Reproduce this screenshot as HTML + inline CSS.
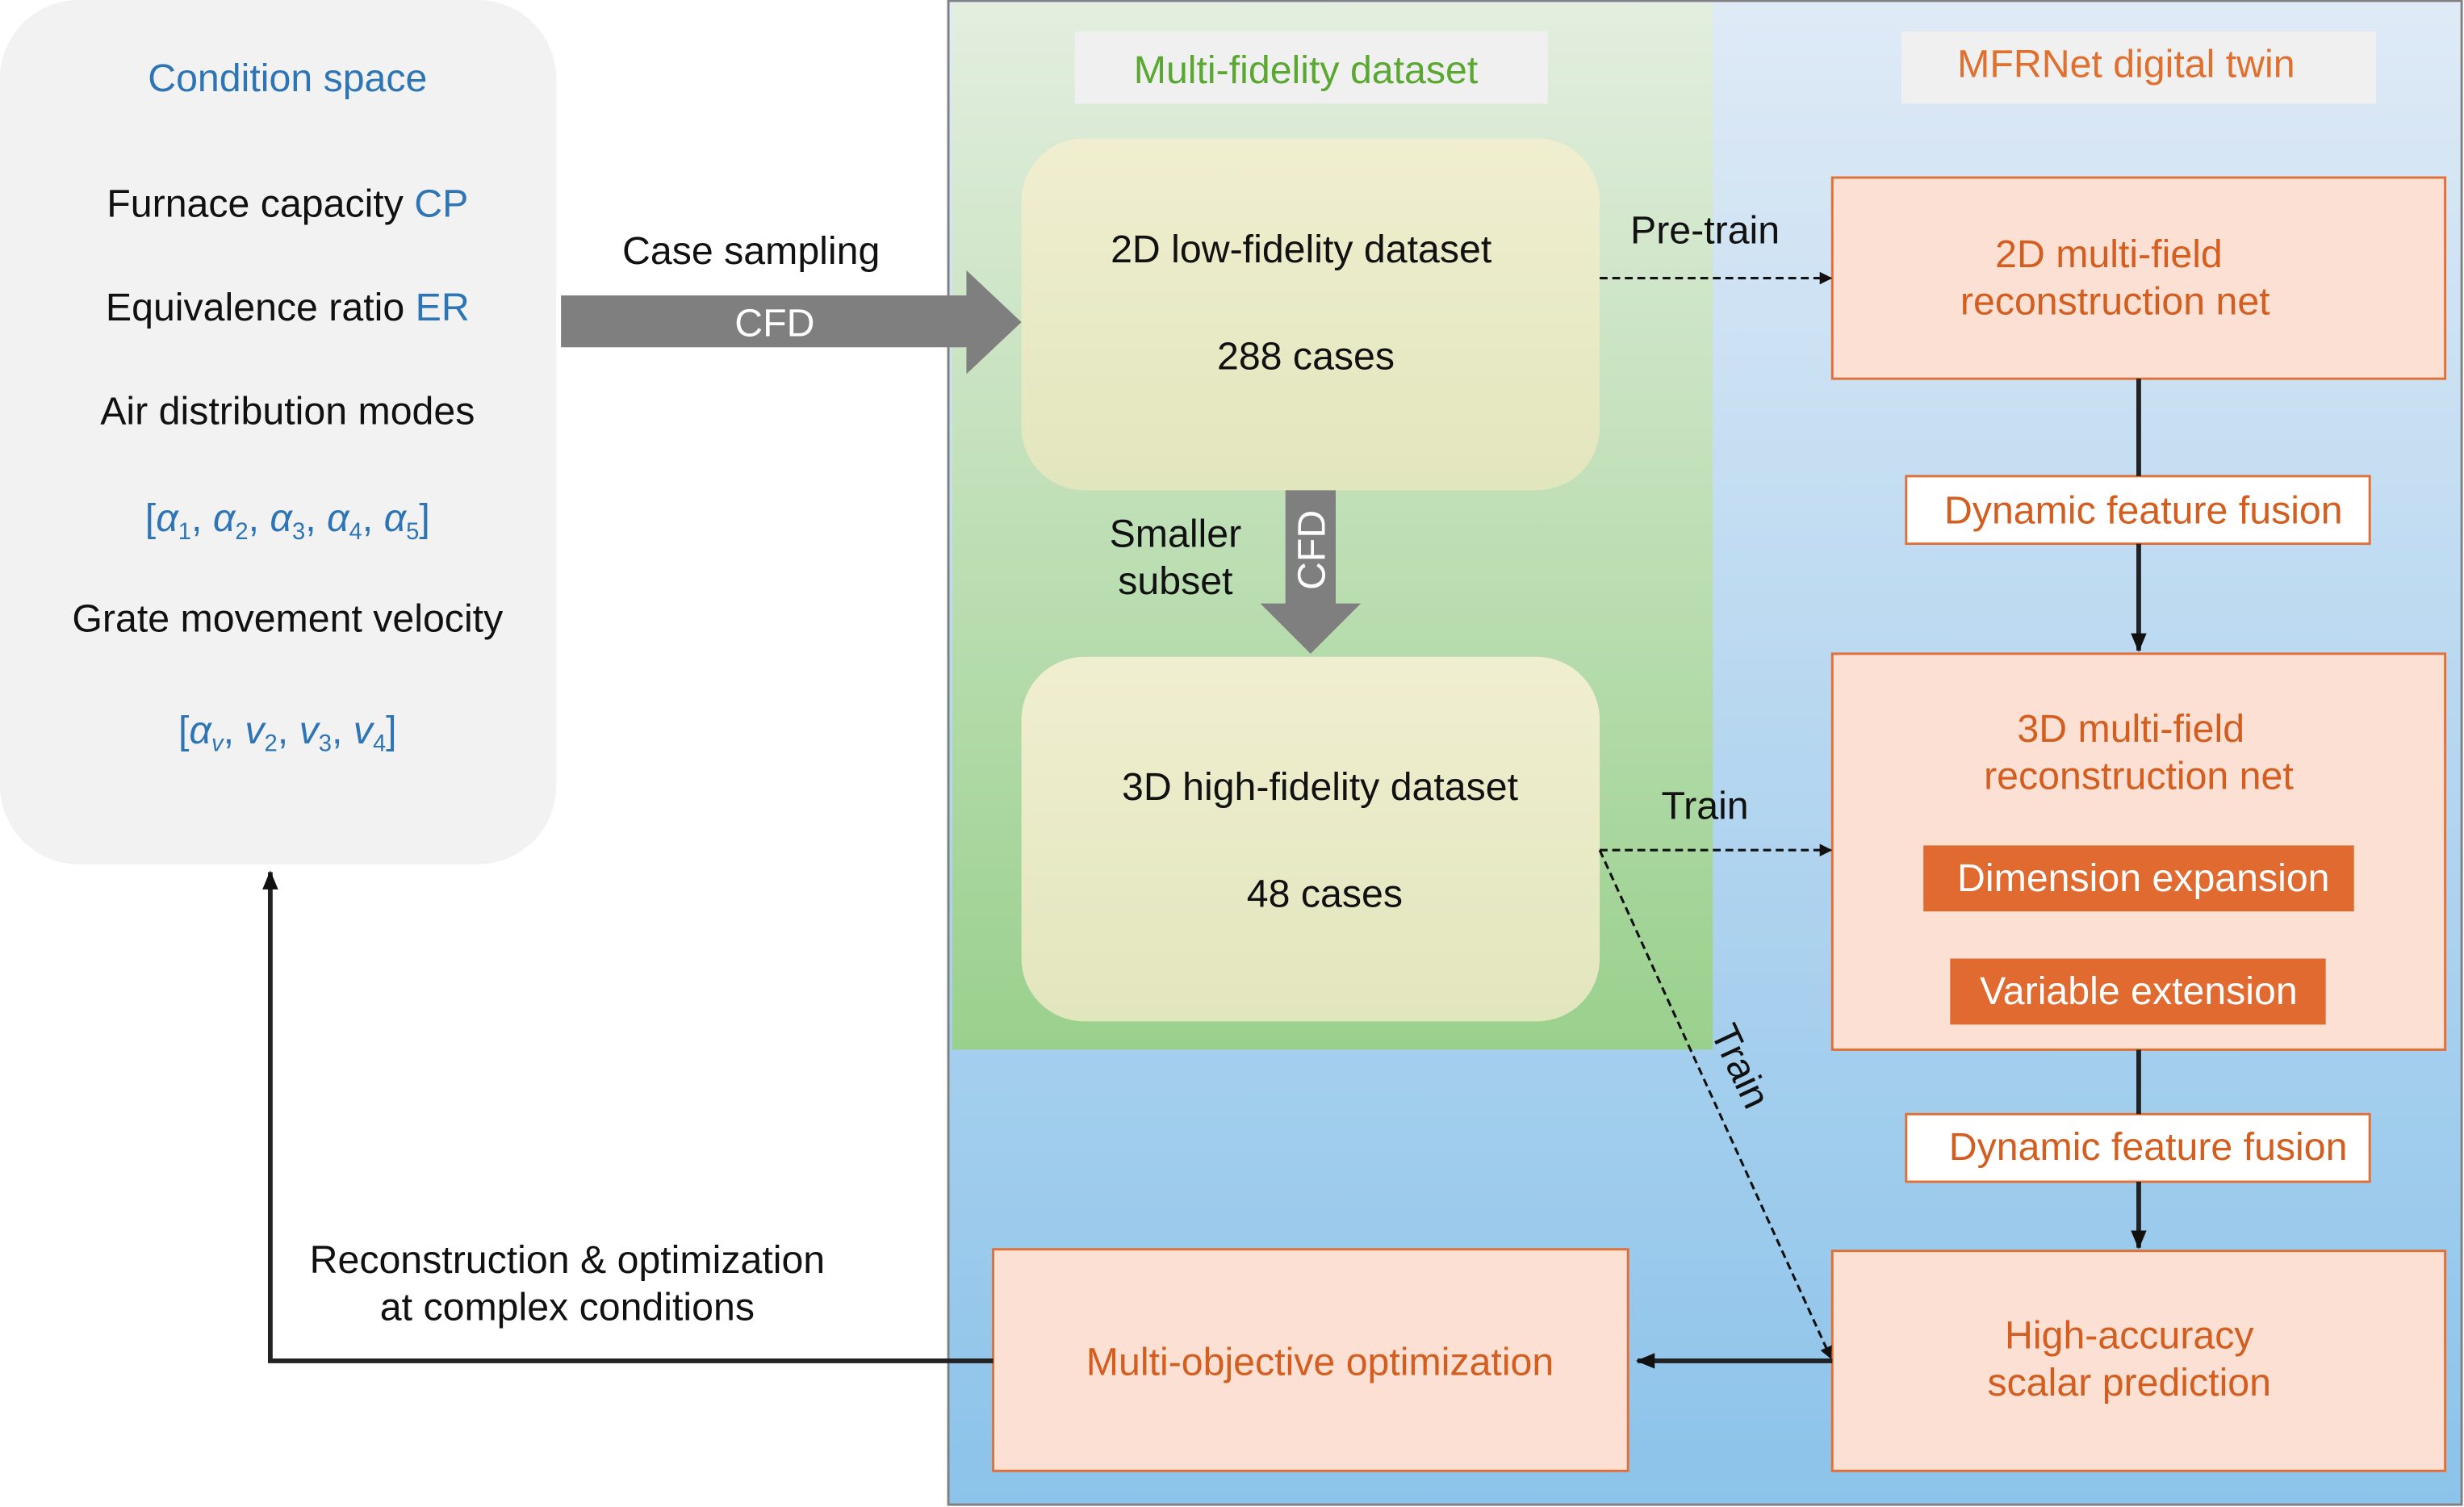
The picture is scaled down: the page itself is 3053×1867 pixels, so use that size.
<!DOCTYPE html>
<html><head><meta charset="utf-8"><style>
html,body{margin:0;padding:0;background:#fff;width:3053px;height:1867px;overflow:hidden}
svg{display:block}
text{font-family:"Liberation Sans",Arial,sans-serif;font-size:24.8px}
</style></head><body>
<svg width="3053" height="1867" viewBox="0 0 1568 959" preserveAspectRatio="none" xmlns="http://www.w3.org/2000/svg">
<defs>
<linearGradient id="blue" x1="0" y1="0" x2="0" y2="1"><stop offset="0" stop-color="#dfeaf6"/><stop offset="1" stop-color="#8cc3ea"/></linearGradient>
<linearGradient id="green" x1="0" y1="0" x2="0" y2="1"><stop offset="0" stop-color="#e3eedf"/><stop offset="1" stop-color="#9ad08d"/></linearGradient>
<linearGradient id="yel" x1="0" y1="0" x2="0" y2="1"><stop offset="0" stop-color="#f0eed0"/><stop offset="1" stop-color="#e2e6bd"/></linearGradient>
<marker id="ah" markerWidth="8" markerHeight="8" refX="7" refY="4" orient="auto" markerUnits="userSpaceOnUse"><path d="M0,0 L8,4 L0,8 z" fill="#111"/></marker>
<marker id="ah2" markerWidth="12" markerHeight="12" refX="11" refY="6" orient="auto" markerUnits="userSpaceOnUse"><path d="M0,1 L12,6 L0,11 z" fill="#111"/></marker>
</defs>
<rect x="0" y="0" width="354" height="550" rx="50" fill="#f2f2f2"/>
<g text-anchor="middle">
<text x="183" y="58" fill="#2e75b6">Condition space</text>
<text x="183" y="138" fill="#111">Furnace capacity <tspan fill="#2e75b6">CP</tspan></text>
<text x="183" y="204" fill="#111">Equivalence ratio <tspan fill="#2e75b6">ER</tspan></text>
<text x="183" y="270" fill="#111">Air distribution modes</text>
<text x="183" y="338" fill="#2e75b6">[<tspan font-style="italic">α</tspan><tspan font-size="15" dy="5">1</tspan><tspan dy="-5">, </tspan><tspan font-style="italic">α</tspan><tspan font-size="15" dy="5">2</tspan><tspan dy="-5">, </tspan><tspan font-style="italic">α</tspan><tspan font-size="15" dy="5">3</tspan><tspan dy="-5">, </tspan><tspan font-style="italic">α</tspan><tspan font-size="15" dy="5">4</tspan><tspan dy="-5">, </tspan><tspan font-style="italic">α</tspan><tspan font-size="15" dy="5">5</tspan><tspan dy="-5">]</tspan></text>
<text x="183" y="402" fill="#111">Grate movement velocity</text>
<text x="183" y="473" fill="#2e75b6">[<tspan font-style="italic">α</tspan><tspan font-size="15" dy="5" font-style="italic">v</tspan><tspan dy="-5">, </tspan><tspan font-style="italic">v</tspan><tspan font-size="15" dy="5">2</tspan><tspan dy="-5">, </tspan><tspan font-style="italic">v</tspan><tspan font-size="15" dy="5">3</tspan><tspan dy="-5">, </tspan><tspan font-style="italic">v</tspan><tspan font-size="15" dy="5">4</tspan><tspan dy="-5">]</tspan></text>
</g>
<rect x="603.5" y="0.5" width="963" height="957" fill="url(#blue)" stroke="#808080" stroke-width="1.5"/>
<rect x="606" y="2" width="484" height="666" fill="url(#green)"/>
<rect x="684" y="20" width="301" height="46" fill="#f0f0f0"/>
<text x="831" y="53" text-anchor="middle" fill="#5aa832">Multi-fidelity dataset</text>
<rect x="1210" y="20" width="302" height="46" fill="#f0f0f0"/>
<text x="1353" y="49" text-anchor="middle" fill="#e0702f">MFRNet digital twin</text>
<rect x="650" y="88" width="368" height="224" rx="40" fill="url(#yel)"/>
<rect x="650" y="418" width="368" height="232" rx="40" fill="url(#yel)"/>
<g text-anchor="middle" fill="#111">
<text x="828" y="167">2D low-fidelity dataset</text>
<text x="831" y="235">288 cases</text>
<text x="840" y="509">3D high-fidelity dataset</text>
<text x="843" y="577">48 cases</text>
<text x="478" y="168">Case sampling</text>
<text x="748" y="348">Smaller</text>
<text x="748" y="378">subset</text>
<text x="1085" y="155">Pre-train</text>
<text x="1085" y="521">Train</text>
<text x="361" y="810">Reconstruction &amp; optimization</text>
<text x="361" y="840">at complex conditions</text>
</g>
<path d="M357,188 L615,188 L615,172 L650,205 L615,238 L615,221 L357,221 z" fill="#7f7f7f"/>
<text x="493" y="214" text-anchor="middle" fill="#fff">CFD</text>
<path d="M818,312 L850,312 L850,384 L866,384 L834,416 L802,384 L818,384 z" fill="#7f7f7f"/>
<text transform="translate(843,350) rotate(-90)" text-anchor="middle" fill="#fff">CFD</text>
<g fill="#fbe0d3" stroke="#e07038" stroke-width="1.5">
<rect x="1166" y="113" width="390" height="128"/>
<rect x="1166" y="416" width="390" height="252"/>
<rect x="1166" y="796" width="390" height="140"/>
<rect x="632" y="795" width="404" height="141"/>
</g>
<g fill="#fff" stroke="#e07038" stroke-width="1.5">
<rect x="1213" y="303" width="295" height="43"/>
<rect x="1213" y="709" width="295" height="43"/>
</g>
<rect x="1224" y="538" width="274" height="42" fill="#e06a30"/>
<rect x="1241" y="610" width="239" height="42" fill="#e06a30"/>
<g text-anchor="middle" fill="#d35e20">
<text x="1342" y="170">2D multi-field</text>
<text x="1346" y="200">reconstruction net</text>
<text x="1364" y="333">Dynamic feature fusion</text>
<text x="1356" y="472">3D multi-field</text>
<text x="1361" y="502">reconstruction net</text>
<text x="1367" y="738">Dynamic feature fusion</text>
<text x="1355" y="858">High-accuracy</text>
<text x="1355" y="888">scalar prediction</text>
<text x="840" y="875">Multi-objective optimization</text>
</g>
<text x="1364" y="567" text-anchor="middle" fill="#fff">Dimension expansion</text>
<text x="1361" y="639" text-anchor="middle" fill="#fff">Variable extension</text>
<g stroke="#222" stroke-width="3" fill="none">
<line x1="1361" y1="241" x2="1361" y2="303"/>
<line x1="1361" y1="346" x2="1361" y2="414" marker-end="url(#ah2)"/>
<line x1="1361" y1="668" x2="1361" y2="709"/>
<line x1="1361" y1="752" x2="1361" y2="794" marker-end="url(#ah2)"/>
<line x1="1166" y1="866" x2="1042" y2="866" marker-end="url(#ah2)"/>
<polyline points="632,866 172,866 172,555" marker-end="url(#ah2)"/>
</g>
<g stroke="#111" stroke-width="1.6" fill="none" stroke-dasharray="5,3">
<line x1="1018" y1="177" x2="1165" y2="177" marker-end="url(#ah)"/>
<line x1="1018" y1="541" x2="1165" y2="541" marker-end="url(#ah)"/>
<line x1="1018" y1="541" x2="1165" y2="864" marker-end="url(#ah)"/>
</g>
<text transform="translate(1100,682) rotate(65)" text-anchor="middle" fill="#111">Train</text>
</svg>
</body></html>
